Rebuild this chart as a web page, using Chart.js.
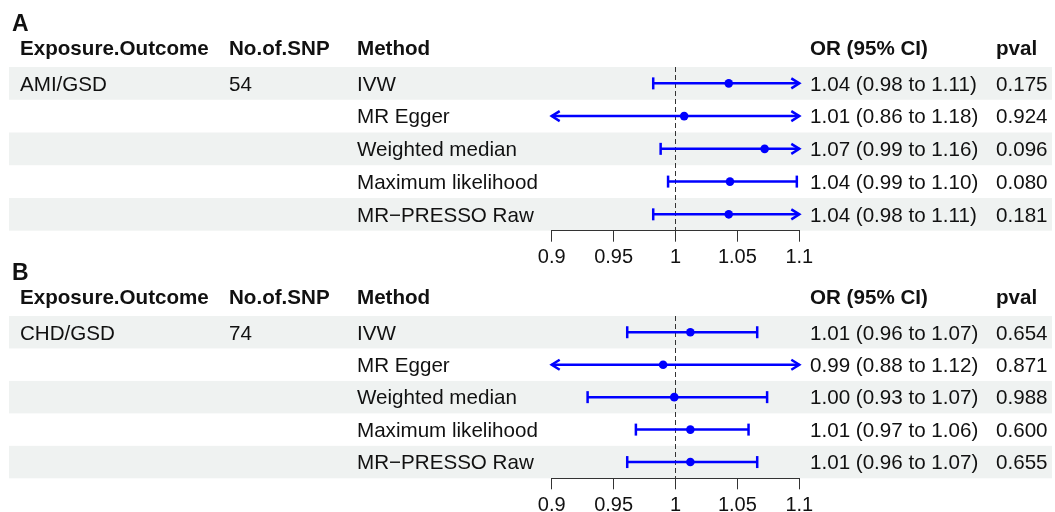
<!DOCTYPE html>
<html>
<head>
<meta charset="utf-8">
<script src="https://cdn.jsdelivr.net/npm/chart.js@4"></script>
<style>
  html, body { margin: 0; padding: 0; background: #fff; }
  #wrap { position: relative; width: 1055px; height: 512px; }
  #wrap canvas { position: absolute; left: 0; top: 0; }
</style>
</head>
<body>
<div id="wrap">
  <canvas id="panelA" width="1055" height="512"></canvas>
  <canvas id="panelB" width="1055" height="512"></canvas>
</div>
<script>
(function () {
    "use strict";

    // data
    const tickValues = [0.9, 0.95, 1, 1.05, 1.1];
    const tickLabels = ['0.9', '0.95', '1', '1.05', '1.1'];
    const methods = ['IVW', 'MR Egger', 'Weighted median', 'Maximum likelihood', 'MR\u2212PRESSO Raw'];
    const panelLabels = ['A', 'B'];
    const exposures = ['AMI/GSD', 'CHD/GSD'];
    const snpCounts = [54, 74];

    const orA = [1.043, 1.007, 1.072, 1.044, 1.043];
    const lowerA = [0.982, 0.86, 0.988, 0.994, 0.982];
    const upperA = [1.11, 1.18, 1.16, 1.098, 1.11];
    const pvalA = ['0.175', '0.924', '0.096', '0.080', '0.181'];

    const orB = [1.012, 0.990, 0.999, 1.012, 1.012];
    const lowerB = [0.961, 0.88, 0.929, 0.968, 0.961];
    const upperB = [1.066, 1.12, 1.074, 1.059, 1.066];
    const pvalB = ['0.654', '0.871', '0.988', '0.600', '0.655'];

    const FONT = "'Liberation Sans', Arial, Helvetica, sans-serif";
    const BLUE = '#0000ff';
    const STRIPE = '#eff2f1';
    const TEXT = '#111111';

    const panels = [
        { label: panelLabels[0], exposure: exposures[0], snp: snpCounts[0], or: orA, lower: lowerA, upper: upperA, pval: pvalA, top: 67, bottom: 230.7 },
        { label: panelLabels[1], exposure: exposures[1], snp: snpCounts[1], or: orB, lower: lowerB, upper: upperB, pval: pvalB, top: 316, bottom: 478.3 }
    ];

    // column x positions
    const COL = { exposure: 20, snp: 229, method: 357, or: 810, pval: 996 };

    const forestPlugin = {
        id: 'forest',
        beforeDraw(chart, args, p) {
            const ctx = chart.ctx;
            const y = chart.scales.y;
            ctx.save();
            ctx.fillStyle = STRIPE;
            methods.forEach((m, i) => {
                if (i % 2 !== 0) return;
                const y0 = y.getPixelForValue(i + 0.5);
                const y1 = y.getPixelForValue(i + 1.5);
                ctx.fillRect(9, y0, 1043, y1 - y0);
            });
            ctx.restore();
        },
        beforeDatasetsDraw(chart, args, p) {
            const ctx = chart.ctx;
            const x = chart.scales.x;
            const y = chart.scales.y;
            const area = chart.chartArea;
            ctx.save();
            // reference line
            ctx.strokeStyle = '#333';
            ctx.lineWidth = 1;
            ctx.setLineDash([5, 3]);
            ctx.beginPath();
            ctx.moveTo(Math.round(x.getPixelForValue(1)) + 0.5, area.top);
            ctx.lineTo(Math.round(x.getPixelForValue(1)) + 0.5, area.bottom);
            ctx.stroke();
            ctx.setLineDash([]);

            // confidence intervals
            ctx.strokeStyle = BLUE;
            ctx.lineWidth = 2.5;
            ctx.lineCap = 'butt';
            p.or.forEach((v, i) => {
                const yc = y.getPixelForValue(i + 1);
                const lo = Math.max(p.lower[i], x.min);
                const hi = Math.min(p.upper[i], x.max);
                const xl = x.getPixelForValue(lo);
                const xr = x.getPixelForValue(hi);
                ctx.beginPath();
                ctx.moveTo(xl, yc);
                ctx.lineTo(xr, yc);
                ctx.stroke();
                // left end
                ctx.beginPath();
                if (p.lower[i] < x.min) {
                    ctx.moveTo(xl + 8, yc - 5);
                    ctx.lineTo(xl, yc);
                    ctx.lineTo(xl + 8, yc + 5);
                } else {
                    ctx.moveTo(xl, yc - 6);
                    ctx.lineTo(xl, yc + 6);
                }
                ctx.stroke();
                // right end
                ctx.beginPath();
                if (p.upper[i] > x.max) {
                    ctx.moveTo(xr - 8, yc - 5);
                    ctx.lineTo(xr, yc);
                    ctx.lineTo(xr - 8, yc + 5);
                } else {
                    ctx.moveTo(xr, yc - 6);
                    ctx.lineTo(xr, yc + 6);
                }
                ctx.stroke();
            });
            ctx.restore();
        },
        afterDraw(chart, args, p) {
            const ctx = chart.ctx;
            const y = chart.scales.y;
            const top = chart.chartArea.top;
            ctx.save();
            ctx.fillStyle = TEXT;
            ctx.textBaseline = 'alphabetic';
            ctx.textAlign = 'left';

            ctx.font = 'bold 23px ' + FONT;
            ctx.fillText(p.label, 12, top - 36);

            ctx.font = 'bold 20.6px ' + FONT;
            const hy = top - 12;
            ctx.fillText('Exposure.Outcome', COL.exposure, hy);
            ctx.fillText('No.of.SNP', COL.snp, hy);
            ctx.fillText('Method', COL.method, hy);
            ctx.fillText('OR (95% CI)', COL.or, hy);
            ctx.fillText('pval', COL.pval, hy);

            ctx.font = '20.6px ' + FONT;
            methods.forEach((m, i) => {
                const by = y.getPixelForValue(i + 1) + 7.3;
                if (i === 0) {
                    ctx.fillText(p.exposure, COL.exposure, by);
                    ctx.fillText(String(p.snp), COL.snp, by);
                }
                ctx.fillText(m, COL.method, by);
                const txt = p.or[i].toFixed(2) + ' (' + p.lower[i].toFixed(2) + ' to ' + p.upper[i].toFixed(2) + ')';
                ctx.fillText(txt, COL.or, by);
                ctx.fillText(p.pval[i], COL.pval, by);
            });
            ctx.restore();
        }
    };

    function makeChart(id, p) {
        const ctx = document.getElementById(id).getContext('2d');
        return new Chart(ctx, {
            type: 'scatter',
            data: {
                datasets: [{
                    data: p.or.map((v, i) => ({ x: v, y: i + 1 })),
                    pointRadius: 4.3,
                    pointHoverRadius: 4.3,
                    pointBackgroundColor: BLUE,
                    pointBorderWidth: 0,
                    clip: false
                }]
            },
            options: {
                responsive: false,
                animation: false,
                events: [],
                layout: { padding: { left: 551.7, right: 1055 - 799.3, top: p.top, bottom: 0 } },
                plugins: {
                    legend: { display: false },
                    tooltip: { enabled: false },
                    forest: p
                },
                scales: {
                    x: {
                        type: 'linear',
                        min: tickValues[0],
                        max: tickValues[tickValues.length - 1],
                        afterBuildTicks(scale) {
                            scale.ticks = tickValues.map(v => ({ value: v }));
                        },
                        afterFit(scale) {
                            scale.height = 512 - p.bottom;
                        },
                        ticks: {
                            autoSkip: false,
                            maxRotation: 0,
                            padding: 4,
                            color: TEXT,
                            font: { family: FONT, size: 20 },
                            callback: (v) => tickLabels[tickValues.indexOf(v)]
                        },
                        grid: {
                            display: true,
                            drawOnChartArea: false,
                            drawTicks: true,
                            tickLength: 11,
                            color: '#333',
                            lineWidth: 1
                        },
                        border: { display: true, color: '#333', width: 1 }
                    },
                    y: {
                        type: 'linear',
                        display: false,
                        reverse: true,
                        min: 0.5,
                        max: methods.length + 0.5
                    }
                }
            },
            plugins: [forestPlugin]
        });
    }

    makeChart('panelA', panels[0]);
    makeChart('panelB', panels[1]);
})();
</script>
</body>
</html>
